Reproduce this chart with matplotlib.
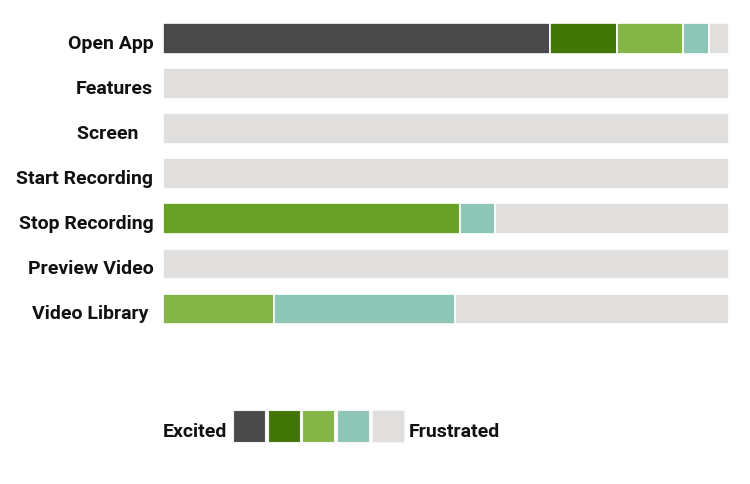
import matplotlib
matplotlib.use("Agg")
import matplotlib.pyplot as plt
from matplotlib.patches import Rectangle

plt.rcParams['font.family'] = ['Roboto', 'DejaVu Sans']

# steps in the flow, top to bottom
steps = ["Open App", "Features", "Screen   ", "Start Recording",
         "Stop Recording", "Preview Video", "Video Library "]

# share of each feeling per step (percent of bar)
excited     = [68.3, 0, 0, 0, 0,    0, 0]
happy       = [12.0, 0, 0, 0, 0,    0, 0]
pleased     = [0,    0, 0, 0, 52.4, 0, 0]
content     = [11.5, 0, 0, 0, 0,    0, 19.6]
neutral     = [4.7,  0, 0, 0, 6.2,  0, 32.0]
frustrated  = [3.5, 100, 100, 100, 41.4, 100, 48.4]

series = [excited, happy, pleased, content, neutral, frustrated]
colors = ["#4a4a4a", "#417505", "#68a126", "#84b547", "#8dc5b7", "#e0dfde"]
legend_colors = ["#4a4a4a", "#417505", "#84b547", "#8dc5b7", "#e0dfde"]

W, H = 750, 484
fig = plt.figure(figsize=(W / 100, H / 100), dpi=100)
ax = fig.add_axes([163 / W, 1 - 331.5 / H, 566 / W, 315.5 / H])

ypos = list(range(len(steps)))
left = [0] * len(steps)
for vals, c in zip(series, colors):
    ax.barh(ypos, vals, left=left, height=0.68, color=c,
            edgecolor="white", linewidth=1.2)
    left = [l + v for l, v in zip(left, vals)]

ax.set_xlim(0, 100)
ax.set_ylim(len(steps) - 0.5, -0.5)
ax.set_yticks([y + 0.07 for y in ypos])
ax.set_yticklabels(steps, fontsize=14, fontweight="semibold", color="#111111")
ax.tick_params(axis="y", length=0, pad=7)
ax.set_xticks([])
for s in ax.spines.values():
    s.set_visible(False)

# legend scale
lax = fig.add_axes([0, 0, 1, 1])
lax.set_xlim(0, W)
lax.set_ylim(H, 0)
lax.axis("off")
for i, c in enumerate(legend_colors):
    lax.add_patch(Rectangle((233 + i * 34.7, 410), 32, 32, facecolor=c,
                            edgecolor="#f4f4f4", linewidth=0.8))
lax.text(163, 432, "Excited", fontsize=14, fontweight="semibold",
         color="#111111", va="center")
lax.text(409, 432, "Frustrated", fontsize=14, fontweight="semibold",
         color="#111111", va="center")

fig.savefig("out.png", dpi=100)
